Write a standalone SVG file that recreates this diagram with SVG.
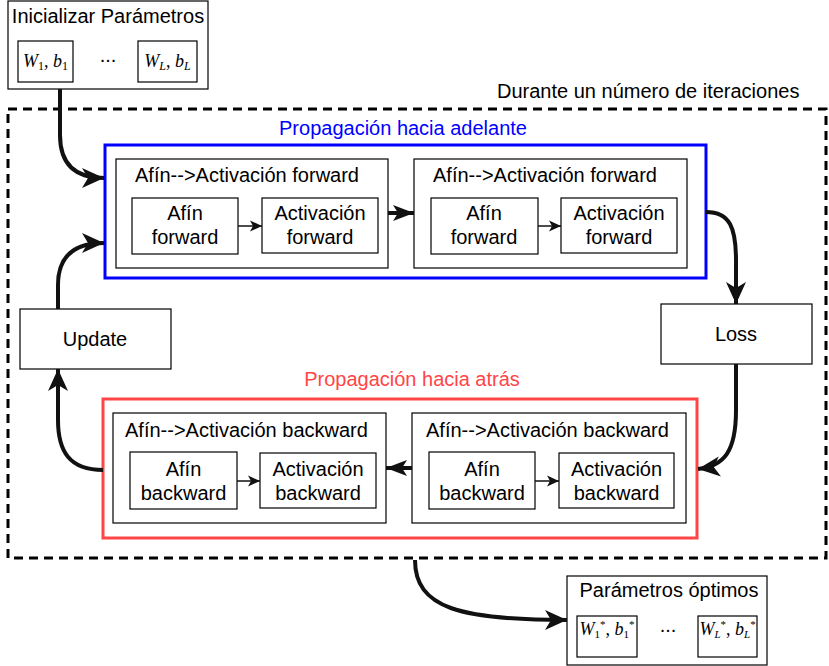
<svg xmlns="http://www.w3.org/2000/svg" width="829" height="666" viewBox="0 0 829 666">
<style>
.t{font-family:"Liberation Sans",Arial,Helvetica,sans-serif;font-size:20px;fill:#000}
.c{text-anchor:middle}
.m{font-family:"Liberation Serif","Times New Roman",serif;font-size:18px;fill:#000;text-anchor:middle}
.i{font-style:italic}
.box{fill:#fff;stroke:#000;stroke-width:1.2}
.thick{fill:none;stroke:#111;stroke-width:4}
.thin{fill:none;stroke:#111;stroke-width:1.5}
</style>
<defs>
<marker id="big" markerUnits="userSpaceOnUse" markerWidth="24" markerHeight="22" refX="22" refY="10" orient="auto" overflow="visible"><path d="M0,0 L22,10 L0,20 L6,10 Z" fill="#111"/></marker>
<marker id="mid" markerUnits="userSpaceOnUse" markerWidth="22" markerHeight="18" refX="21" refY="8" orient="auto" overflow="visible"><path d="M0,0 L21,8 L0,16 L5,8 Z" fill="#111"/></marker>
<marker id="small" markerUnits="userSpaceOnUse" markerWidth="13" markerHeight="12" refX="12" refY="5.5" orient="auto" overflow="visible"><path d="M0,0 L12,5.5 L0,11 L3,5.5 Z" fill="#111"/></marker>
</defs>
<rect width="829" height="666" fill="#fff"/>

<g id="loop">
<rect x="8" y="109" width="818" height="449" fill="none" stroke="#000" stroke-width="3" stroke-dasharray="9 6"/>
<text class="t" x="497" y="98">Durante un número de iteraciones</text>
</g>

<g id="init">
<rect class="box" x="8" y="1" width="200" height="88"/>
<text class="t c" x="108" y="23">Inicializar Parámetros</text>
<rect class="box" x="18" y="41" width="55" height="41"/>
<text class="m" x="45.5" y="67"><tspan class="i">W</tspan><tspan font-size="12" dy="3">1</tspan><tspan dy="-3">, </tspan><tspan class="i">b</tspan><tspan font-size="12" dy="3">1</tspan></text>
<text class="t c" x="108" y="62" font-size="16">...</text>
<rect class="box" x="138" y="41" width="59" height="41"/>
<text class="m" x="167.5" y="67"><tspan class="i">W</tspan><tspan class="i" font-size="12" dy="3">L</tspan><tspan dy="-3">, </tspan><tspan class="i">b</tspan><tspan class="i" font-size="12" dy="3">L</tspan></text>
</g>

<g id="forward">
<rect x="105" y="145" width="601" height="133" fill="none" stroke="#0000FF" stroke-width="3"/>
<text class="t c" x="403" y="135" style="fill:#0000FF">Propagación hacia adelante</text>
</g>

<g id="fwd1">
<rect class="box" x="116" y="159" width="272" height="109"/>
<text class="t" x="135" y="182">Afín--&gt;Activación forward</text>
<rect class="box" x="132" y="198" width="106" height="56"/>
<text class="t c" x="185" y="220">Afín</text>
<text class="t c" x="185" y="244">forward</text>
<rect class="box" x="262" y="198" width="116" height="55"/>
<text class="t c" x="320" y="220">Activación</text>
<text class="t c" x="320" y="244">forward</text>
</g>

<g id="fwd2">
<rect class="box" x="414" y="159" width="273" height="109"/>
<text class="t" x="433" y="182">Afín--&gt;Activación forward</text>
<rect class="box" x="431" y="198" width="107" height="56"/>
<text class="t c" x="484" y="220">Afín</text>
<text class="t c" x="484" y="244">forward</text>
<rect class="box" x="561" y="198" width="116" height="55"/>
<text class="t c" x="619" y="220">Activación</text>
<text class="t c" x="619" y="244">forward</text>
</g>

<g id="loss">
<rect class="box" x="661" y="304" width="151" height="60"/>
<text class="t c" x="736" y="341">Loss</text>
</g>

<g id="update">
<rect class="box" x="20" y="309" width="151" height="60"/>
<text class="t c" x="95" y="346">Update</text>
</g>

<g id="backward">
<rect x="103" y="399" width="594" height="139" fill="none" stroke="#FF4545" stroke-width="3"/>
<text class="t c" x="412" y="386" style="fill:#FF4545">Propagación hacia atrás</text>
</g>

<g id="bwd1">
<rect class="box" x="113" y="413" width="273" height="110"/>
<text class="t" x="125" y="437">Afín--&gt;Activación backward</text>
<rect class="box" x="130" y="452" width="107" height="57"/>
<text class="t c" x="183.5" y="476">Afín</text>
<text class="t c" x="183.5" y="500">backward</text>
<rect class="box" x="260" y="453" width="116" height="55"/>
<text class="t c" x="318" y="476">Activación</text>
<text class="t c" x="318" y="500">backward</text>
</g>

<g id="bwd2">
<rect class="box" x="412" y="413" width="274" height="110"/>
<text class="t" x="426" y="437">Afín--&gt;Activación backward</text>
<rect class="box" x="429" y="452" width="106" height="57"/>
<text class="t c" x="482" y="476">Afín</text>
<text class="t c" x="482" y="500">backward</text>
<rect class="box" x="559" y="453" width="115" height="55"/>
<text class="t c" x="616.5" y="476">Activación</text>
<text class="t c" x="616.5" y="500">backward</text>
</g>

<g id="optimal">
<rect class="box" x="567" y="576" width="200" height="89"/>
<text class="t c" x="669" y="597">Parámetros óptimos</text>
<rect class="box" x="577" y="616" width="60" height="41"/>
<text class="m" x="607" y="635" font-size="17"><tspan class="i">W</tspan><tspan font-size="11" dy="3">1</tspan><tspan font-size="11" dy="-10">*</tspan><tspan dy="7">, </tspan><tspan class="i">b</tspan><tspan font-size="11" dy="3">1</tspan><tspan font-size="11" dy="-10">*</tspan></text>
<text class="t c" x="668" y="632" font-size="16">...</text>
<rect class="box" x="698" y="616" width="59" height="41"/>
<text class="m" x="727.5" y="635" font-size="17"><tspan class="i">W</tspan><tspan class="i" font-size="11" dy="3">L</tspan><tspan font-size="11" dy="-10">*</tspan><tspan dy="7">, </tspan><tspan class="i">b</tspan><tspan class="i" font-size="11" dy="3">L</tspan><tspan font-size="11" dy="-10">*</tspan></text>
</g>

<g id="connectors">
<path class="thick" d="M60,89 L60,135 Q60,178 104,178" marker-end="url(#big)"/>
<path class="thick" d="M58,309 L58,285 Q58,243 104,243" marker-end="url(#big)"/>
<path class="thick" d="M706,212 C730,212 736,228 736,260 L736,304" marker-end="url(#big)"/>
<path class="thick" d="M736,364 L736,410 C736,452 724,466 698,469" marker-end="url(#big)"/>
<path class="thick" d="M103,470 C70,470 58,452 58,420 L58,369" marker-end="url(#big)"/>
<path class="thick" d="M415,560 C415,608 460,620 567,620" marker-end="url(#big)"/>
<path class="thick" d="M388,213 L414,213" marker-end="url(#mid)"/>
<path class="thick" d="M412,468 L386,468" marker-end="url(#mid)"/>
<path class="thin" d="M238,226 L262,226" marker-end="url(#small)"/>
<path class="thin" d="M538,226 L561,226" marker-end="url(#small)"/>
<path class="thin" d="M237,481 L260,481" marker-end="url(#small)"/>
<path class="thin" d="M535,481 L559,481" marker-end="url(#small)"/>
</g>
</svg>
